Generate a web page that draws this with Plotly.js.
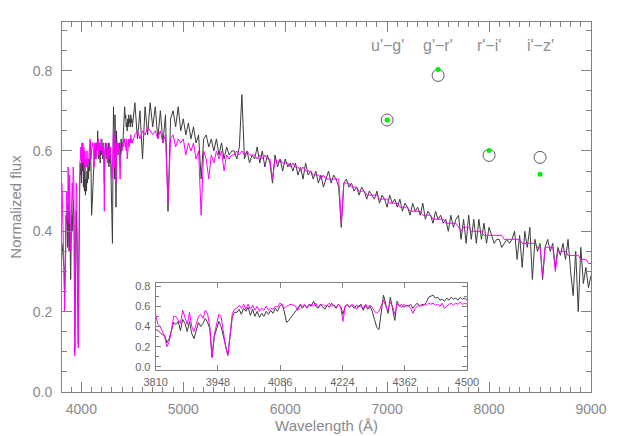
<!DOCTYPE html>
<html lang="en">
<head>
  <meta charset="UTF-8">
  <title>Spectrum vs model</title>
  <script src="https://cdn.jsdelivr.net/npm/plotly.js-dist@3.0.1/plotly.min.js"></script>
  <style>
    body { margin: 0; background: #fff; }
    #chart { width: 623px; height: 436px; }
  </style>
</head>
<body>
  <div id="chart"></div>
  <script>
    // blue end of the spectrum, 5 A sampling (also drawn in the inset)
    const blueStart = 3810;
    const blueStep = 5;
    const obsBlue = [
      0.37,0.36,0.34,0.32,0.31,0.24,0.28,0.36,0.44,0.42,
      0.45,0.36,0.47,0.43,0.35,0.45,0.33,0.28,0.37,0.44,
      0.40,0.43,0.48,0.44,0.38,0.10,0.30,0.38,0.45,0.40,
      0.30,0.20,0.12,0.30,0.50,0.54,0.54,0.57,0.52,0.58,
      0.55,0.59,0.51,0.57,0.50,0.55,0.49,0.53,0.50,0.55,
      0.52,0.56,0.53,0.58,0.55,0.60,0.62,0.55,0.44,0.46,
      0.49,0.52,0.55,0.58,0.61,0.58,0.61,0.59,0.62,0.60,
      0.65,0.60,0.58,0.62,0.59,0.57,0.61,0.59,0.63,0.60,
      0.58,0.62,0.60,0.52,0.60,0.62,0.59,0.61,0.58,0.61,
      0.59,0.62,0.56,0.61,0.57,0.60,0.55,0.47,0.39,0.37,
      0.55,0.71,0.62,0.53,0.69,0.58,0.46,0.65,0.60,0.62,
      0.59,0.61,0.60,0.62,0.58,0.61,0.63,0.60,0.62,0.61,
      0.64,0.69,0.70,0.71,0.68,0.69,0.66,0.67,0.65,0.68,
      0.66,0.69,0.67,0.68,0.66,0.69,0.67,0.68,0.66
    ];
    const modelBlue = [
      0.52,0.42,0.40,0.35,0.30,0.20,0.25,0.36,0.50,0.50,
      0.47,0.43,0.56,0.50,0.42,0.54,0.40,0.35,0.42,0.50,
      0.52,0.48,0.56,0.53,0.40,0.09,0.32,0.42,0.52,0.50,
      0.35,0.20,0.11,0.33,0.53,0.57,0.58,0.61,0.58,0.62,
      0.57,0.62,0.57,0.61,0.56,0.60,0.55,0.58,0.56,0.60,
      0.56,0.58,0.57,0.60,0.59,0.63,0.62,0.58,0.60,0.61,
      0.62,0.61,0.60,0.56,0.62,0.60,0.62,0.58,0.61,0.62,
      0.60,0.63,0.59,0.61,0.62,0.60,0.61,0.63,0.60,0.61,
      0.59,0.62,0.60,0.45,0.60,0.61,0.59,0.62,0.60,0.57,
      0.61,0.60,0.58,0.62,0.59,0.61,0.59,0.55,0.53,0.55,
      0.60,0.66,0.60,0.56,0.64,0.60,0.52,0.62,0.61,0.59,
      0.62,0.60,0.61,0.58,0.53,0.58,0.60,0.61,0.60,0.62,
      0.61,0.63,0.62,0.63,0.61,0.62,0.60,0.63,0.58,0.60,
      0.62,0.63,0.61,0.63,0.62,0.64,0.62,0.63,0.62
    ];

    // rest of the spectrum, 25 A sampling
    const redStart = 4500;
    const redStep = 25;
    const obsRed = [
      0.66,0.72,0.63,0.70,0.58,0.71,0.64,0.72,
      0.66,0.71,0.63,0.70,0.62,0.69,0.45,0.68,
      0.70,0.66,0.71,0.65,0.68,0.64,0.67,0.63,
      0.66,0.62,0.64,0.53,0.63,0.64,0.61,0.63,
      0.60,0.63,0.59,0.62,0.58,0.61,0.59,0.60,
      0.60,0.58,0.61,0.74,0.58,0.60,0.57,0.59,
      0.58,0.61,0.57,0.60,0.56,0.59,0.57,0.52,
      0.59,0.56,0.58,0.55,0.58,0.56,0.57,0.55,
      0.57,0.54,0.56,0.53,0.57,0.54,0.55,0.53,
      0.55,0.52,0.54,0.51,0.53,0.55,0.52,0.54,
      0.53,0.51,0.41,0.52,0.53,0.51,0.52,0.50,
      0.51,0.49,0.51,0.50,0.48,0.50,0.49,0.48,
      0.50,0.47,0.49,0.48,0.46,0.49,0.47,0.48,
      0.46,0.48,0.45,0.47,0.46,0.44,0.47,0.45,
      0.46,0.44,0.47,0.43,0.45,0.44,0.42,0.45,
      0.43,0.44,0.42,0.43,0.40,0.44,0.41,0.43,
      0.44,0.38,0.43,0.37,0.44,0.38,0.43,0.37,
      0.43,0.38,0.42,0.37,0.41,0.39,0.37,0.38,
      0.38,0.36,0.37,0.38,0.37,0.38,0.40,0.33,
      0.39,0.31,0.40,0.36,0.41,0.28,0.38,0.35,
      0.37,0.28,0.36,0.38,0.35,0.37,0.31,0.36,
      0.34,0.37,0.33,0.38,0.30,0.24,0.35,0.20,
      0.36,0.27,0.31,0.26,0.29
    ];
    const modelRed = [
      0.62,0.64,0.65,0.63,0.65,0.64,0.66,0.65,
      0.64,0.65,0.63,0.65,0.62,0.64,0.47,0.63,
      0.64,0.61,0.63,0.62,0.63,0.59,0.62,0.60,
      0.62,0.58,0.60,0.44,0.60,0.58,0.53,0.59,
      0.57,0.60,0.58,0.60,0.55,0.59,0.58,0.59,
      0.59,0.60,0.59,0.60,0.59,0.60,0.59,0.59,
      0.59,0.58,0.59,0.58,0.59,0.58,0.58,0.53,
      0.58,0.57,0.58,0.57,0.57,0.57,0.56,0.57,
      0.56,0.56,0.55,0.56,0.55,0.55,0.55,0.54,
      0.54,0.54,0.53,0.54,0.53,0.53,0.53,0.53,
      0.53,0.53,0.42,0.52,0.52,0.52,0.51,0.51,
      0.51,0.50,0.50,0.50,0.49,0.49,0.49,0.49,
      0.49,0.48,0.48,0.48,0.48,0.47,0.47,0.47,
      0.47,0.46,0.46,0.46,0.46,0.45,0.45,0.45,
      0.45,0.45,0.44,0.44,0.44,0.44,0.43,0.43,
      0.43,0.43,0.43,0.42,0.42,0.42,0.42,0.42,
      0.41,0.40,0.41,0.41,0.41,0.40,0.40,0.40,
      0.40,0.40,0.39,0.39,0.39,0.39,0.39,0.39,
      0.39,0.39,0.38,0.38,0.38,0.38,0.38,0.38,
      0.38,0.37,0.37,0.37,0.37,0.37,0.37,0.36,
      0.36,0.29,0.36,0.36,0.36,0.36,0.30,0.35,
      0.35,0.35,0.35,0.34,0.34,0.34,0.34,0.34,
      0.33,0.33,0.33,0.32,0.32
    ];

    // colour indices: observed (open circles) and model (green dots)
    const colourNames = ["u'\u2212g'", "g'\u2212r'", "r'\u2212i'", "i'\u2212z'"];
    const colourX = [7000, 7500, 8000, 8500];
    const colourObs = [0.677, 0.788, 0.589, 0.584];
    const colourModel = [0.677, 0.803, 0.601, 0.542];

    const grey = '#8a8a8a';
    const font = 'Liberation Sans, Arial, sans-serif';
    const obsLine = { color: '#3c3c3c', width: 1 };
    const modelLine = { color: '#ff00ff', width: 1 };

    const traces = [
      { x0: blueStart, dx: blueStep, y: obsBlue, mode: 'lines', line: obsLine },
      { x0: redStart, dx: redStep, y: obsRed, mode: 'lines', line: obsLine },
      { x0: blueStart, dx: blueStep, y: modelBlue, mode: 'lines', line: modelLine },
      { x0: redStart, dx: redStep, y: modelRed, mode: 'lines', line: modelLine },
      { x0: blueStart, dx: blueStep, y: obsBlue, mode: 'lines', line: obsLine, xaxis: 'x2', yaxis: 'y2' },
      { x0: blueStart, dx: blueStep, y: modelBlue, mode: 'lines', line: modelLine, xaxis: 'x2', yaxis: 'y2' },
      { x: colourX, y: colourObs, mode: 'markers', cliponaxis: false,
        marker: { symbol: 'circle-open', size: 12, color: '#5a5a5a', line: { width: 1 } } },
      { x: colourX, y: colourModel, mode: 'markers', cliponaxis: false,
        marker: { symbol: 'circle', size: 5, color: '#00ee00' } }
    ];

    const baseAxis = {
      showline: true, linecolor: '#808080', linewidth: 1, mirror: 'ticks',
      ticks: 'inside', tickcolor: '#808080', tickwidth: 1,
      showgrid: false, zeroline: false
    };

    const layout = {
      width: 623, height: 436,
      margin: { l: 62, r: 32, t: 22, b: 44 },
      paper_bgcolor: '#fff', plot_bgcolor: '#fff',
      showlegend: false,
      xaxis: Object.assign({}, baseAxis, {
        domain: [0, 1], range: [3810, 9000],
        tick0: 0, dtick: 1000, ticklen: 10, ticklabelstandoff: 4,
        minor: { dtick: 100, ticklen: 5, ticks: 'inside', tickcolor: '#808080' },
        tickfont: { family: font, size: 14, color: grey },
        title: { text: 'Wavelength (Å)', standoff: 3, font: { family: font, size: 15, color: grey } }
      }),
      yaxis: Object.assign({}, baseAxis, {
        domain: [0, 1], range: [0, 0.921],
        tick0: 0, dtick: 0.2, tickformat: '.1f', ticklen: 10, ticklabelstandoff: 6,
        minor: { dtick: 0.05, ticklen: 5, ticks: 'inside', tickcolor: '#808080' },
        tickfont: { family: font, size: 14, color: grey },
        title: { text: 'Normalized flux', standoff: 7, font: { family: font, size: 15, color: grey } }
      }),
      xaxis2: Object.assign({}, baseAxis, {
        anchor: 'y2', domain: [0.177, 0.7656], range: [3810, 4500],
        tickvals: [3810, 3948, 4086, 4224, 4362, 4500], ticklen: 5, ticklabelstandoff: 2,
        tickfont: { family: font, size: 11, color: '#666666' }
      }),
      yaxis2: Object.assign({}, baseAxis, {
        anchor: 'x2', domain: [0.0595, 0.2946], range: [-0.03, 0.83],
        tick0: 0, dtick: 0.2, tickformat: '.1f', ticklen: 5, ticklabelstandoff: 2,
        minor: { dtick: 0.1, ticklen: 3, ticks: 'inside', tickcolor: '#808080' },
        tickfont: { family: font, size: 11, color: '#666666' }
      }),
      annotations: colourNames.map((name, i) => ({
        x: colourX[i], y: 0.862, xref: 'x', yref: 'y',
        text: name, showarrow: false,
        font: { family: font, size: 16, color: '#909090' }
      }))
    };

    Plotly.newPlot('chart', traces, layout, { staticPlot: true, displayModeBar: false });
  </script>
</body>
</html>
